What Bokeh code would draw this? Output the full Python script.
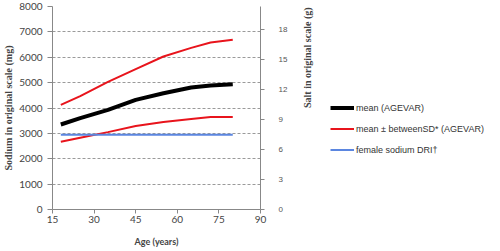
import math
from bokeh.plotting import figure
from bokeh.models import Range1d, LinearAxis, FixedTicker, Legend, LegendItem
from bokeh.embed import file_html
from bokeh.resources import INLINE

# ---- data ----
ages = [18, 25, 35, 45, 55, 65, 72, 80]
mean_agevar = [3350, 3600, 3925, 4320, 4580, 4810, 4890, 4935]
mean_plus_sd = [4120, 4470, 5030, 5535, 6030, 6370, 6580, 6690]
mean_minus_sd = [2670, 2830, 3050, 3290, 3450, 3570, 3650, 3650]
dri_ages = [18, 80]
dri_female = [2950, 2950]

x_ticks = [15, 30, 45, 60, 75, 90]
y_ticks = [0, 1000, 2000, 3000, 4000, 5000, 6000, 7000, 8000]
salt_ticks = [0, 3, 6, 9, 12, 15, 18]
SALT_PER_MG = 2.54 / 1000.0

p = figure(frame_width=208, frame_height=203, output_backend="svg", toolbar_location=None,
           x_range=Range1d(15, 90), y_range=Range1d(0, 8000),
           min_border_left=52, min_border_right=0, min_border_top=6,
           min_border_bottom=34)
p.outline_line_color = None
p.background_fill_color = "white"
p.border_fill_color = "white"

p.extra_y_ranges = {"salt": Range1d(0, 8000 * SALT_PER_MG)}

# grid
p.xgrid.visible = False
p.ygrid.ticker = FixedTicker(ticks=y_ticks)
p.ygrid.grid_line_color = "#9a9a9a"
p.ygrid.grid_line_dash = "3 2"
p.ygrid.grid_line_width = 1

# x axis
xa = p.xaxis[0]
xa.ticker = FixedTicker(ticks=x_ticks)
xa.axis_label = "Age (years)"
xa.axis_label_text_font = "Lato"
xa.axis_label_text_font_style = "bold"
xa.axis_label_text_font_size = "9px"
xa.axis_label_standoff = 10
xa.major_label_text_font = "Lato"
xa.major_label_text_font_size = "10px"
xa.major_label_standoff = 2
xa.axis_line_color = "#888888"
xa.major_tick_line_color = "#888888"
xa.major_tick_out = 4
xa.major_tick_in = 0
xa.minor_tick_line_color = None

# left axis
ya = p.yaxis[0]
ya.ticker = FixedTicker(ticks=y_ticks)
ya.axis_label = "Sodium in original scale (mg)"
ya.axis_label_text_font = "Liberation Serif"
ya.axis_label_text_font_style = "bold"
ya.axis_label_text_font_size = "10px"
ya.axis_label_standoff = 2
ya.major_label_text_font = "Lato"
ya.major_label_text_font_size = "10px"
ya.major_label_standoff = 5
ya.axis_line_color = "#888888"
ya.major_tick_line_color = "#888888"
ya.major_tick_out = 5
ya.major_tick_in = 0
ya.minor_tick_line_color = None

# right axis (salt)
ra = LinearAxis(y_range_name="salt", ticker=FixedTicker(ticks=salt_ticks))
ra.axis_label = "Salt in original scale (g)"
ra.axis_label_orientation = math.pi / 2
ra.axis_label_text_font = "Liberation Serif"
ra.axis_label_text_font_style = "bold"
ra.axis_label_text_font_size = "10px"
ra.axis_label_standoff = 17
ra.major_label_text_font = "Liberation Sans"
ra.major_label_text_font_size = "8px"
ra.major_label_text_color = "#555555"
ra.major_label_standoff = 14
ra.axis_line_color = "#888888"
ra.major_tick_line_color = "#888888"
ra.major_tick_out = 4
ra.major_tick_in = 0
ra.minor_tick_line_color = None
p.add_layout(ra, "right")

# lines
r_mean = p.line(ages, mean_agevar, line_color="black", line_width=4)
r_up = p.line(ages, mean_plus_sd, line_color="#e8141c", line_width=2)
p.line(ages, mean_minus_sd, line_color="#e8141c", line_width=2)
r_dri = p.line(dri_ages, dri_female, line_color="#5b86e0", line_width=2)

legend = Legend(items=[
    LegendItem(label="mean (AGEVAR)", renderers=[r_mean]),
    LegendItem(label="mean \u00b1 betweenSD* (AGEVAR)", renderers=[r_up]),
    LegendItem(label="female sodium DRI\u2020", renderers=[r_dri]),
], location=(-229, 53))
legend.border_line_color = None
legend.background_fill_alpha = 0
legend.padding = 0
legend.margin = 0
legend.spacing = 8
legend.glyph_width = 24
legend.glyph_height = 13
legend.label_standoff = 2
legend.label_text_font = "Liberation Sans"
legend.label_text_font_size = "9px"
legend.label_text_color = "#333333"
p.add_layout(legend, "right")

open("out.html", "w").write(file_html(p, INLINE))
